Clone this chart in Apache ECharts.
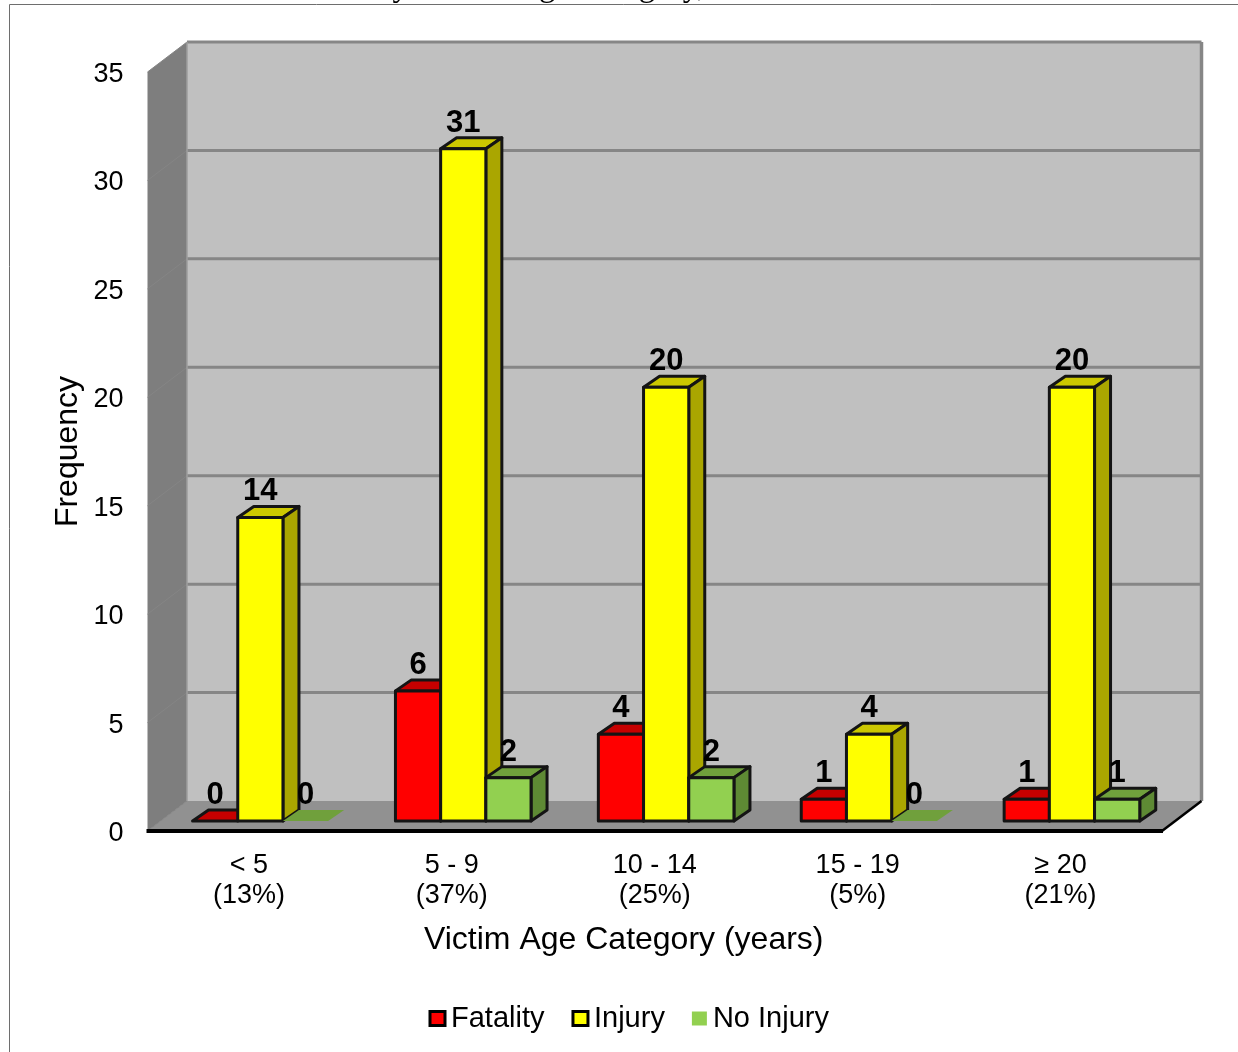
<!DOCTYPE html>
<html>
<head>
<meta charset="utf-8">
<title>Frequency by victim age category</title>
<style>
  html, body { margin: 0; padding: 0; background: #fff; }
  #chart { width: 1238px; height: 1052px; }
</style>
<script src="https://cdn.jsdelivr.net/npm/echarts@6/dist/echarts.min.js"></script>
</head>
<body>
<div id="chart"></div>
<script>
// Chart data
const categories = ['< 5\n(13%)', '5 - 9\n(37%)', '10 - 14\n(25%)', '15 - 19\n(5%)', '≥ 20\n(21%)'];
const fatality = [0, 6, 4, 1, 1];
const injury = [14, 31, 20, 4, 20];
const noInjury = [0, 2, 2, 0, 1];
const valueTicks = [0, 5, 10, 15, 20, 25, 30, 35];

// Pseudo-3D projection, in pixels
const FONT = '"Liberation Sans", Arial, sans-serif';
const WALL_DX = 39.5, WALL_DY = -30;     // front of the floor to the back wall
const ROW_DX = 11.4, ROW_DY = -10;       // front of the floor to the bar fronts
const BAR_DX = 16, BAR_DY = -11;         // depth of one bar
const BAR_WIDTH = 45.2;

const palettes = {
  Fatality: { front: '#FF0000', top: '#C60000', side: '#AA0000', flatStroke: true },
  Injury: { front: '#FFFF00', top: '#CCC800', side: '#AAA600', flatStroke: true },
  'No Injury': { front: '#92D050', top: '#70A03C', side: '#5E8A34', flatStroke: false }
};
const STROKE = '#141414';

function poly(points, fill, stroke, lineWidth) {
  return {
    type: 'polygon',
    shape: { points },
    style: { fill, stroke: stroke || null, lineWidth: lineWidth || 0, lineJoin: 'round' }
  };
}

// Walls, floor and value gridlines of the chart box
function renderBox(params, api) {
  const g = params.coordSys;
  const left = g.x, right = g.x + g.width, top = g.y, bottom = g.y + g.height;
  const kids = [];
  kids.push(poly([[left + WALL_DX, top + WALL_DY], [right + WALL_DX, top + WALL_DY],
    [right + WALL_DX, bottom + WALL_DY], [left + WALL_DX, bottom + WALL_DY]], '#C0C0C0'));
  kids.push(poly([[left, top], [left + WALL_DX, top + WALL_DY],
    [left + WALL_DX, bottom + WALL_DY], [left, bottom]], '#7E7E7E'));
  kids.push(poly([[left, bottom], [left + WALL_DX, bottom + WALL_DY],
    [right + WALL_DX, bottom + WALL_DY], [right, bottom]], '#919191'));
  valueTicks.forEach(function (v) {
    const y = api.coord([0, v])[1];
    kids.push({
      type: 'line',
      shape: { x1: left, y1: y, x2: left + WALL_DX, y2: y + WALL_DY },
      style: { stroke: '#858585', lineWidth: 1 }
    });
    if (v > 0) {
      kids.push({
        type: 'line',
        shape: { x1: left + WALL_DX, y1: y + WALL_DY, x2: right + WALL_DX, y2: y + WALL_DY },
        style: { stroke: '#868686', lineWidth: 3 }
      });
    }
  });
  kids.push({
    type: 'line',
    shape: { x1: right + WALL_DX, y1: top + WALL_DY, x2: right + WALL_DX, y2: bottom + WALL_DY },
    style: { stroke: '#868686', lineWidth: 3.5 }
  });
  kids.push({
    type: 'line',
    shape: { x1: left + WALL_DX, y1: top + WALL_DY, x2: left + WALL_DX, y2: bottom + WALL_DY },
    style: { stroke: '#9E9E9E', lineWidth: 1.5 }
  });
  kids.push({
    type: 'line',
    shape: { x1: right, y1: bottom, x2: right + WALL_DX, y2: bottom + WALL_DY },
    style: { stroke: '#000', lineWidth: 2.5 }
  });
  kids.push({
    type: 'line',
    shape: { x1: left - 1, y1: bottom, x2: right + 1, y2: bottom },
    style: { stroke: '#000', lineWidth: 4 }
  });
  return { type: 'group', children: kids };
}

// One 3D column: front face, top and side, with its value above it
function barRenderer(seriesName, slot) {
  const pal = palettes[seriesName];
  return function (params, api) {
    const value = api.value(1);
    const topPt = api.coord([api.value(0), value]);
    const basePt = api.coord([api.value(0), 0]);
    const x0 = topPt[0] + ROW_DX + (slot - 1.5) * BAR_WIDTH;
    const x1 = x0 + BAR_WIDTH;
    const yTop = topPt[1] + ROW_DY;
    const yBase = basePt[1] + ROW_DY;
    const kids = [];
    const edge = value > 0 || pal.flatStroke ? STROKE : null;
    kids.push(poly([[x0, yTop], [x0 + BAR_DX, yTop + BAR_DY], [x1 + BAR_DX, yTop + BAR_DY], [x1, yTop]],
      pal.top, edge, 3));
    if (value > 0) {
      kids.push(poly([[x1, yTop], [x1 + BAR_DX, yTop + BAR_DY], [x1 + BAR_DX, yBase + BAR_DY], [x1, yBase]],
        pal.side, STROKE, 3));
      kids.push(poly([[x0, yTop], [x1, yTop], [x1, yBase], [x0, yBase]], pal.front, STROKE, 3));
    }
    kids.push({
      type: 'text',
      z2: 100,
      style: {
        x: (x0 + x1) / 2,
        y: yTop - 25.5,
        text: String(value),
        fill: '#000',
        font: 'bold 31px ' + FONT,
        align: 'center',
        verticalAlign: 'middle'
      }
    });
    return { type: 'group', children: kids };
  };
}

function barSeries(name, slot, values) {
  return {
    name,
    type: 'custom',
    z: 3,
    silent: true,
    renderItem: barRenderer(name, slot),
    encode: { x: 0, y: 1 },
    data: values.map(function (v, i) { return [i, v]; })
  };
}

const chart = echarts.init(document.getElementById('chart'), null, { renderer: 'canvas' });
chart.setOption({
  animation: false,
  backgroundColor: '#fff',
  textStyle: { fontFamily: FONT },
  grid: { left: 147.5, top: 72, width: 1014.5, height: 759 },
  legend: {
    left: 428.5,
    top: 1004,
    itemWidth: 15,
    itemHeight: 14,
    itemGap: 27,
    padding: 0,
    selectedMode: false,
    textStyle: { fontFamily: FONT, fontSize: 29, color: '#000', padding: [0, 0, 0, 1] },
    data: [
      { name: 'Fatality', icon: 'rect', itemStyle: { color: '#FF0000', borderColor: '#000', borderWidth: 3 } },
      { name: 'Injury', icon: 'rect', itemStyle: { color: '#FFFF00', borderColor: '#000', borderWidth: 3 } },
      { name: 'No Injury', icon: 'rect', itemStyle: { color: '#92D050', borderWidth: 0 } }
    ]
  },
  xAxis: {
    type: 'category',
    data: categories,
    name: 'Victim Age Category (years)',
    nameLocation: 'middle',
    nameGap: 93,
    nameTextStyle: { fontFamily: FONT, fontSize: 32, color: '#000', padding: [0, 62, 0, 0] },
    axisLine: { show: false },
    axisTick: { show: false },
    splitLine: { show: false },
    axisLabel: { fontFamily: FONT, fontSize: 27, color: '#000', lineHeight: 30, margin: 20, interval: 0 }
  },
  yAxis: {
    type: 'value',
    min: 0,
    max: 35,
    interval: 5,
    name: 'Frequency',
    nameLocation: 'middle',
    nameGap: 63,
    nameMoveOverlap: false,
    nameTextStyle: { fontFamily: FONT, fontSize: 32, color: '#000' },
    axisLine: { show: false },
    axisTick: { show: false },
    splitLine: { show: false },
    axisLabel: {
      margin: 24,
      formatter: '{v|{value}}',
      rich: { v: { fontFamily: FONT, fontSize: 27, color: '#000', padding: [5, 0, 0, 0] } }
    }
  },
  graphic: [{
    type: 'polyline',
    silent: true,
    z: 10,
    shape: { points: [[9.5, 1052], [9.5, 4.5], [1238, 4.5]] },
    style: { fill: null, stroke: '#6E6E6E', lineWidth: 1 }
  }, {
    type: 'text',
    silent: true,
    z: 9,
    style: {
      x: 376,
      y: 4,
      text: 'by Victim Age Category,',
      font: '33px "Liberation Serif", serif',
      fill: '#000',
      align: 'left',
      verticalAlign: 'bottom'
    }
  }],
  series: [
    {
      name: 'box',
      type: 'custom',
      z: 1,
      silent: true,
      renderItem: renderBox,
      encode: { x: 0, y: 1 },
      data: [[0, 0]]
    },
    barSeries('Fatality', 0, fatality),
    barSeries('Injury', 1, injury),
    barSeries('No Injury', 2, noInjury)
  ]
});
</script>
</body>
</html>
